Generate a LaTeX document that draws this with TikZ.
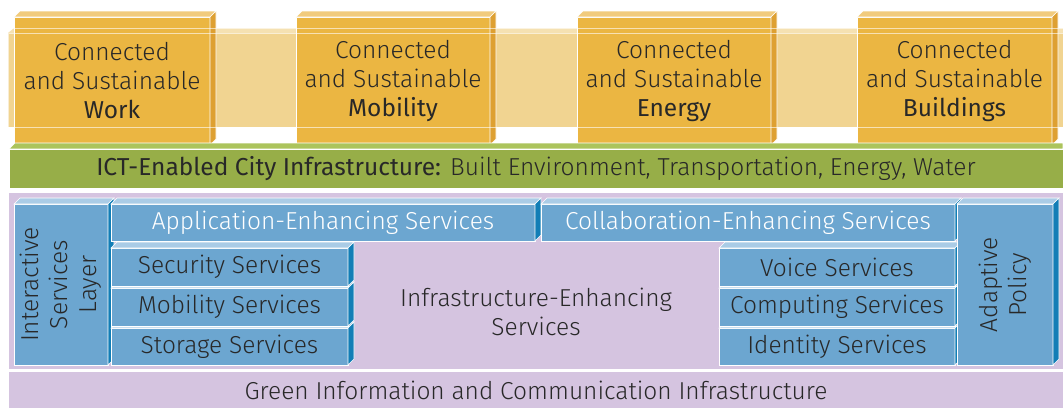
\documentclass[tikz,border=0pt]{standalone}
\usepackage{fontspec}
\IfFontExistsTF{Fira Sans Light}
  {\setmainfont{Fira Sans Light}[BoldFont={Fira Sans}]}
  {\setmainfont{Fira Sans}[BoldFont={Fira Sans}, BoldFeatures={FakeBold=1.6}]}
\definecolor{ofront}{RGB}{235,182,66}
\definecolor{otop}{RGB}{241,203,125}
\definecolor{oside}{RGB}{222,160,50}
\definecolor{bandc}{RGB}{241,212,145}
\definecolor{gfront}{RGB}{151,174,72}
\definecolor{gtop}{RGB}{172,196,92}
\definecolor{purp}{RGB}{213,196,224}
\definecolor{bfront}{RGB}{108,166,208}
\definecolor{btop}{RGB}{170,204,230}
\definecolor{bside}{RGB}{18,126,182}
\definecolor{txt}{RGB}{40,40,40}
\newcommand\dfaces[3]{%
  \filldraw[fill=#2,draw=white,line width=0.6pt] (#1.north west) -- ++(6,-6) -- ([shift={(6,-6)}]#1.north east) -- (#1.north east) -- cycle;
  \filldraw[fill=#3,draw=white,line width=0.6pt] (#1.north east) -- ++(6,-6) -- ([shift={(6,-6)}]#1.south east) -- (#1.south east) -- cycle;}
\newcommand\mkbox[7]{% name, x1,y1,x2,y2, style, text
  \node[#6, anchor=north west, minimum width={#4-#2}, minimum height={#5-#3}] (#1) at (#2,#3) {#7};}
\begin{document}
\begin{tikzpicture}[x=1pt,y=-1pt,
  every node/.style={inner sep=0pt, outer sep=0pt, align=center, text=txt, font=\fontsize{24.5}{29}\selectfont},
  obox/.style={fill=ofront, draw=white, line width=0.8pt},
  gbox/.style={fill=gfront, draw=white, line width=0.8pt},
  pbox/.style={fill=purp},
  bbox/.style={fill=bfront, draw=white, line width=0.8pt},
  wtext/.style={text=white},
  vert/.style={rotate=90},
]
\useasboundingbox (0,0) rectangle (1063,408);
% translucent band
\fill[bandc] (8,33) rectangle (1063,127);
\fill[bandc!70!white] (8,33) -- (14,28) -- (1063,28) -- (1063,33) -- cycle;
% orange boxes
\mkbox{work}{14}{17}{210}{145}{obox}{Connected\\and Sustainable\\\textbf{Work}}
\dfaces{work}{otop}{oside}
\mkbox{mobility}{296}{17}{490}{145}{obox}{Connected\\and Sustainable\\\textbf{Mobility}}
\dfaces{mobility}{otop}{oside}
\mkbox{energy}{577}{17}{771}{145}{obox}{Connected\\and Sustainable\\\textbf{Energy}}
\dfaces{energy}{otop}{oside}
\mkbox{buildings}{857}{17}{1052}{145}{obox}{Connected\\and Sustainable\\\textbf{Buildings}}
\dfaces{buildings}{otop}{oside}
% band lines over boxes
\draw[white, opacity=0.6, line width=0.8pt] (8,28) -- (1063,28) (8,33) -- (1063,33) (8,127) -- (1063,127) (8,33) -- (8,127);
% green bar
\filldraw[fill=gtop,draw=white,line width=0.6pt] (9,149) -- (15,143) -- (1063,143) -- (1063,149) -- cycle;
\mkbox{ict}{9}{149}{1063}{188}{gbox}{\textbf{ICT-Enabled City Infrastructure:} Built Environment, Transportation, Energy, Water}
% purple areas
\mkbox{mid}{9}{193}{1063}{369}{pbox}{}
\mkbox{green}{9}{372}{1063}{408}{pbox}{Green Information and Communication Infrastructure}
% blue boxes
\mkbox{isl}{14}{204}{108}{365}{bbox}{}
\dfaces{isl}{btop}{bside}
\node[vert] at (isl.center) {Interactive\\Services\\Layer};
\mkbox{app}{111}{204}{535}{241}{bbox,wtext}{Application-Enhancing Services}
\dfaces{app}{btop}{bside}
\mkbox{collab}{541}{204}{955}{241}{bbox,wtext}{Collaboration-Enhancing Services}
\dfaces{collab}{btop}{bside}
\mkbox{stor}{111}{328}{348}{365}{bbox}{Storage Services}
\dfaces{stor}{btop}{bside}
\mkbox{mob}{111}{288}{348}{326}{bbox}{Mobility Services}
\dfaces{mob}{btop}{bside}
\mkbox{sec}{111}{248}{348}{286}{bbox}{Security Services}
\dfaces{sec}{btop}{bside}
\mkbox{ident}{719}{328}{955}{365}{bbox}{Identity Services}
\dfaces{ident}{btop}{bside}
\mkbox{comp}{719}{288}{955}{326}{bbox}{Computing Services}
\dfaces{comp}{btop}{bside}
\mkbox{voice}{719}{248}{955}{286}{bbox}{Voice Services}
\dfaces{voice}{btop}{bside}
\mkbox{adapt}{957}{204}{1053}{365}{bbox}{}
\dfaces{adapt}{btop}{bside}
\node[vert] at (adapt.center) {Adaptive\\Policy};
\node (infra) at (536,312) {Infrastructure-Enhancing\\Services};
\end{tikzpicture}
\end{document}
